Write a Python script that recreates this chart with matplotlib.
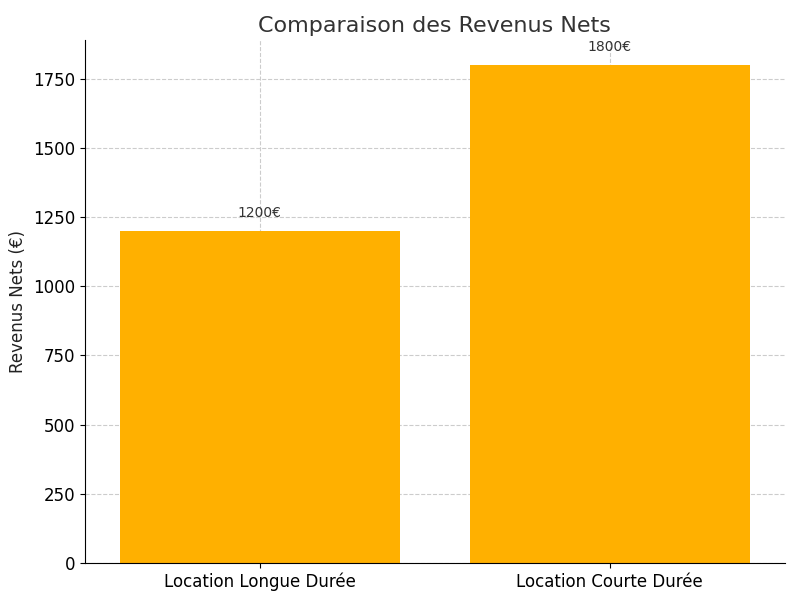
import matplotlib.pyplot as plt

categories = ["Location Longue Durée", "Location Courte Durée"]
revenus = [1200, 1800]
labels = ["1200€", "1800€"]

fig, ax = plt.subplots(figsize=(8, 6), dpi=100)
fig.subplots_adjust(left=0.106, right=0.981, top=0.933, bottom=0.062)

bars = ax.bar(categories, revenus, color="#FFB000", width=0.8, zorder=2)
for b, lab in zip(bars, labels):
    ax.text(b.get_x() + b.get_width() / 2, b.get_height() + 40, lab,
            ha="center", va="bottom", fontsize=10, color="#333333")

ax.set_ylim(0, 1890)
ax.set_xlim(-0.5, 1.5)
ax.set_yticks([0, 250, 500, 750, 1000, 1250, 1500, 1750])
ax.set_ylabel("Revenus Nets (€)", fontsize=12, color="#222222")
ax.set_title("Comparaison des Revenus Nets", fontsize=16, color="#333333")
ax.tick_params(labelsize=12)
ax.grid(True, linestyle="--", color="#cccccc", linewidth=0.8, zorder=0)
ax.spines["top"].set_visible(False)
ax.spines["right"].set_visible(False)

fig.savefig("out.png")
